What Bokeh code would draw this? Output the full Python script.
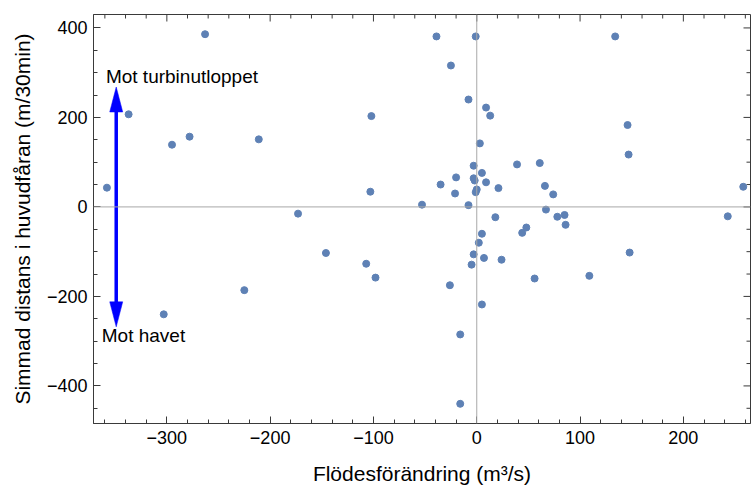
from bokeh.plotting import figure
from bokeh.models import (LinearAxis, Range1d, Span, FixedTicker,
                          CustomJSTickFormatter, Label, ColumnDataSource)
from bokeh.embed import file_html
from bokeh.resources import INLINE

# Flow change (m^3/s) against simulated distance in the main channel (m/30min)
flow_change = [
    -358, -337, -295, -278, -263, -211, -173, -102, -103, -303,
    -225, -146, -107, -98, -39, -1, 134, -25, -8, 9,
    13, 3, -3, 39, 61, 5, -20, -3, -2, 9,
    -35, 21, 66, 74, -21, 0, -1, -53, -8, 67,
    18, 78, 85, 86, 48, 44, 5, 2, -3, 7,
    -5, 24, 56, 109, -26, 5, -16, -16, 146, 147,
    258, 243, 148,
]
swim_distance = [
    43, 207, 139, 157, 386, 151, -15, 203, 34, -240,
    -186, -103, -127, -158, 381, 381, 381, 316, 240, 222,
    204, 142, 92, 95, 98, 76, 66, 64, 59, 55,
    50, 42, 47, 28, 30, 39, 33, 5, 4, -6,
    -23, -22, -18, -40, -46, -58, -60, -80, -106, -114,
    -129, -118, -160, -154, -175, -218, -285, -440, 183, 117,
    45, -21, -102,
]

x_ticks = [-300, -200, -100, 0, 100, 200]
y_ticks = [-400, -200, 0, 200, 400]
x_minor = [v for v in range(-360, 261, 20)]
y_minor = [v for v in range(-450, 426, 50)]

# Double-headed direction arrow and its captions
arrow_x = -349
arrow_tip = 268
up_caption = "Mot turbinutloppet"
down_caption = "Mot havet"

FONT = "Liberation Sans"
SPINE = "#3a3a3a"
DOT = "#5E81B5"

x_lo, x_hi = -371, 265
y_lo, y_hi = -484, 430

BORDER_L, BORDER_R, BORDER_T, BORDER_B = 93, 1, 14, 68
W, H = 751, 491

p = figure(width=W, height=H, x_range=Range1d(x_lo, x_hi),
           y_range=Range1d(y_lo, y_hi), output_backend="svg",
           toolbar_location=None, min_border_left=BORDER_L,
           min_border_right=BORDER_R, min_border_top=BORDER_T,
           min_border_bottom=BORDER_B,
           x_axis_location=None, y_axis_location=None)
p.grid.visible = False
p.outline_line_color = SPINE
p.outline_line_width = 1
p.background_fill_color = "white"
p.border_fill_color = "white"

fmt = CustomJSTickFormatter(
    code="return tick < 0 ? '\\u2212' + Math.abs(tick) : String(tick);")


def style_axis(ax):
    ax.axis_line_color = SPINE
    ax.axis_line_width = 1
    ax.major_tick_line_color = SPINE
    ax.minor_tick_line_color = SPINE
    ax.major_tick_in = 7
    ax.major_tick_out = 0
    ax.minor_tick_in = 4
    ax.minor_tick_out = 0
    ax.major_label_text_font = FONT
    ax.major_label_text_font_size = "18px"
    ax.major_label_text_color = "black"
    ax.axis_label_text_font = FONT
    ax.axis_label_text_font_size = "21px"
    ax.axis_label_text_font_style = "normal"
    ax.axis_label_text_color = "black"


xt = FixedTicker(ticks=x_ticks, minor_ticks=x_minor)
yt = FixedTicker(ticks=y_ticks, minor_ticks=y_minor)

bottom = LinearAxis(ticker=xt, formatter=fmt,
                    axis_label="Flödesförändring (m³/s)")
style_axis(bottom)
bottom.major_label_standoff = 7
bottom.axis_label_standoff = 15
p.add_layout(bottom, "below")

left = LinearAxis(ticker=yt, formatter=fmt,
                  axis_label="Simmad distans i huvudfåran (m/30min)")
style_axis(left)
left.major_label_standoff = 6
left.axis_label_standoff = 10
p.add_layout(left, "left")

# Pixel-to-data conversion for the fixed frame
frame_w = W - BORDER_L - BORDER_R
frame_h = H - BORDER_T - BORDER_B
px_x = frame_w / (x_hi - x_lo)
px_y = frame_h / (y_hi - y_lo)

# Inward ticks mirrored on the top and right edges of the frame
x_minor_only = [v for v in x_minor if v not in x_ticks]
y_minor_only = [v for v in y_minor if v not in y_ticks]
p.segment(x0=x_ticks, x1=x_ticks, y0=[y_hi] * len(x_ticks),
          y1=[y_hi - 7 / px_y] * len(x_ticks), line_color=SPINE, line_width=1)
p.segment(x0=x_minor_only, x1=x_minor_only, y0=[y_hi] * len(x_minor_only),
          y1=[y_hi - 4 / px_y] * len(x_minor_only), line_color=SPINE,
          line_width=1)
p.segment(x0=[x_hi] * len(y_ticks), x1=[x_hi - 7 / px_x] * len(y_ticks),
          y0=y_ticks, y1=y_ticks, line_color=SPINE, line_width=1)
p.segment(x0=[x_hi] * len(y_minor_only),
          x1=[x_hi - 4 / px_x] * len(y_minor_only),
          y0=y_minor_only, y1=y_minor_only, line_color=SPINE, line_width=1)

# Zero reference lines
for dim in ("width", "height"):
    p.add_layout(Span(location=0, dimension=dim, line_color="#a8a8a8",
                      line_width=1))

src = ColumnDataSource(data=dict(x=flow_change, y=swim_distance))
p.scatter("x", "y", source=src, size=7, color=DOT, line_color=DOT)

# Arrow: shaft plus two triangular heads (head size given in pixels)
head_len = 25 / px_y
head_half = 6.5 / px_x

p.segment(x0=[arrow_x], y0=[-arrow_tip + head_len * 0.8],
          x1=[arrow_x], y1=[arrow_tip - head_len * 0.8],
          line_color="blue", line_width=3.5)
p.patches(
    xs=[[arrow_x - head_half, arrow_x, arrow_x + head_half],
        [arrow_x - head_half, arrow_x, arrow_x + head_half]],
    ys=[[arrow_tip - head_len, arrow_tip, arrow_tip - head_len],
        [-arrow_tip + head_len, -arrow_tip, -arrow_tip + head_len]],
    fill_color="blue", line_color="blue", line_width=0.5)

p.add_layout(Label(x=arrow_x - 10, y=arrow_tip + 23, text=up_caption,
                   text_font=FONT, text_font_size="19px",
                   text_color="black", text_baseline="alphabetic"))
p.add_layout(Label(x=arrow_x - 14, y=-arrow_tip - 20, text=down_caption,
                   text_font=FONT, text_font_size="19px",
                   text_color="black", text_baseline="alphabetic"))

open("out.html", "w").write(file_html(p, INLINE))
